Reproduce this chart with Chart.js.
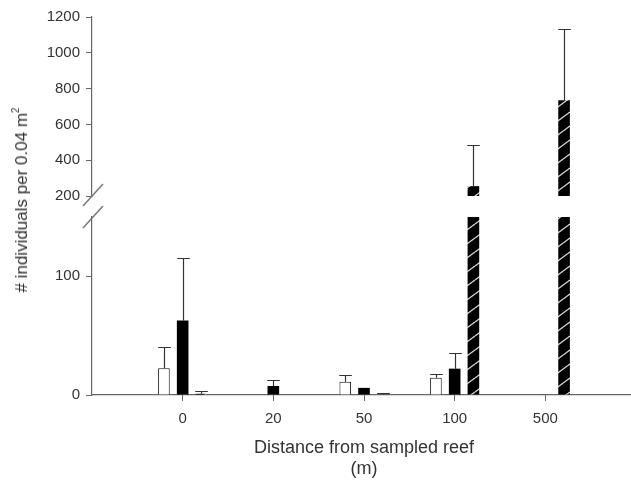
<!DOCTYPE html>
<html>
<head>
<meta charset="utf-8">
<script src="https://cdn.jsdelivr.net/npm/chart.js@4.4.1/dist/chart.umd.min.js"></script>
<style>
  html, body { margin: 0; padding: 0; background: #fff; }
  #wrap { position: relative; width: 631px; height: 480px; background: #fff; overflow: hidden; }
  #wrap canvas { position: absolute; left: 0; top: 0; }
  #ytitle {
    position: absolute; left: 22px; top: 200px; white-space: nowrap;
    font-family: "Liberation Sans", Arial, sans-serif; font-size: 17px; color: #333;
    transform: translate(-50%, -50%) rotate(-90deg);
  }
  #ytitle sup { font-size: 10px; vertical-align: 8px; line-height: 0; }
</style>
</head>
<body>
<div id="wrap">
  <canvas id="upper" width="636" height="480"></canvas>
  <canvas id="lower" width="636" height="480"></canvas>
  <div id="ytitle"># individuals per 0.04 m<sup>2</sup></div>
</div>
<script>
// ---- data ----
const categories = ['0', '20', '50', '100', '500'];
const whiteMeans = [22.5, 0, 11.2, 14.6, 0.5];
const whiteErrs  = [18.3, 0, 5.4, 3.5, 0];
const blackMeans = [62.8, 7.6, 6, 22.2, 0.5];
const blackErrs  = [52.7, 5, 0, 13, 0];
const hatchMeans = [1, 0, 0.5, 255, 735];
const hatchErrs  = [2, 0, 1, 230, 400];
const lowerTicks = [0, 100];
const upperTicks = [200, 400, 600, 800, 1000, 1200];
const xTitle = ['Distance from sampled reef', '(m)'];

// pad categories with empty slots at both ends
const labels = [''].concat(categories, ['']);
const pad = arr => [null].concat(arr, [null]);

const FONT = '"Liberation Sans", Arial, sans-serif';
const AXIS = '#666';
const TXT = '#333';

function makeHatch() {
  const c = document.createElement('canvas');
  const W = 19, H = 14;
  c.width = W; c.height = H;
  const g = c.getContext('2d');
  g.fillStyle = '#000';
  g.fillRect(0, 0, W, H);
  g.strokeStyle = 'rgba(255,255,255,0.85)';
  g.lineWidth = 1.3;
  for (const dy of [-H, 0, H]) {
    g.beginPath();
    g.moveTo(0, H + dy);
    g.lineTo(W, dy);
    g.stroke();
  }
  return g.createPattern(c, 'repeat');
}
const hatch = makeHatch();

function datasets() {
  return [
    { label: 'white', data: pad(whiteMeans), errors: pad(whiteErrs),
      backgroundColor: '#fff', borderColor: '#111', borderWidth: 1, clip: 0 },
    { label: 'black', data: pad(blackMeans), errors: pad(blackErrs),
      backgroundColor: '#000', borderColor: '#000', borderWidth: 0, clip: 0 },
    { label: 'hatched', data: pad(hatchMeans), errors: pad(hatchErrs),
      backgroundColor: hatch, borderColor: '#000', borderWidth: 0, clip: 0 }
  ];
}

const errorBars = {
  id: 'errorBars',
  afterDatasetsDraw(chart) {
    const ctx = chart.ctx, ys = chart.scales.y, area = chart.chartArea;
    ctx.save();
    ctx.beginPath();
    ctx.rect(area.left, area.top - 1, area.right - area.left, area.bottom - area.top + 1);
    ctx.clip();
    ctx.strokeStyle = '#333';
    ctx.lineWidth = 1.2;
    chart.data.datasets.forEach((ds, i) => {
      const meta = chart.getDatasetMeta(i);
      ds.data.forEach((v, j) => {
        const e = ds.errors[j];
        if (v === null || !e || e <= 0) return;
        if (v < ys.min || v > ys.max) return;
        const el = meta.data[j];
        const x = Math.round(el.x) + 0.5;
        const y0 = ys.getPixelForValue(v);
        const y1 = Math.round(ys.getPixelForValue(v + e)) + 0.5;
        const hw = (el.width + 1) / 2;
        ctx.beginPath();
        ctx.moveTo(x, y0);
        ctx.lineTo(x, y1);
        ctx.moveTo(x - hw, y1);
        ctx.lineTo(x + hw, y1);
        ctx.stroke();
      });
    });
    ctx.restore();
  }
};

function breakMarks(where) {
  return {
    id: 'breakMarks',
    afterDraw(chart) {
      const ctx = chart.ctx, a = chart.chartArea;
      const cx = a.left + 1;
      const cy = where === 'bottom' ? a.bottom - 1 : a.top;
      ctx.save();
      ctx.strokeStyle = '#777';
      ctx.lineWidth = 1.5;
      ctx.beginPath();
      ctx.moveTo(cx - 10, cy + 11);
      ctx.lineTo(cx + 10, cy - 11);
      ctx.stroke();
      ctx.restore();
    }
  };
}

function yScale(min, max, ticksArr) {
  return {
    type: 'linear', min, max, stacked: false,
    afterFit: s => { s.width = 92; },
    afterBuildTicks: s => { s.ticks = ticksArr.map(v => ({ value: v })); },
    grid: { drawOnChartArea: false, drawTicks: true, tickLength: 6, tickColor: AXIS, tickWidth: 1 },
    border: { display: true, color: AXIS, width: 1.2 },
    ticks: { color: TXT, font: { family: FONT, size: 15 }, padding: 6, callback: v => String(v) }
  };
}

const common = {
  responsive: false,
  animation: false,
  devicePixelRatio: 1,
  datasets: { bar: { categoryPercentage: 0.62, barPercentage: 0.62, grouped: true } },
  plugins: { legend: { display: false }, tooltip: { enabled: false }, title: { display: false } }
};

function fitX(h) {
  return s => { s.paddingLeft = 0; s.paddingRight = 0; if (h !== undefined) s.height = h; };
}

new Chart(document.getElementById('upper'), {
  type: 'bar',
  data: { labels, datasets: datasets() },
  options: Object.assign({}, common, {
    layout: { padding: { left: 0, right: 0, top: 17, bottom: 284 } },
    scales: {
      x: { type: 'category', offset: false, display: false, grid: { offset: false }, afterFit: fitX() },
      y: yScale(upperTicks[0], upperTicks[upperTicks.length - 1], upperTicks)
    }
  }),
  plugins: [errorBars, breakMarks('bottom')]
});

new Chart(document.getElementById('lower'), {
  type: 'bar',
  data: { labels, datasets: datasets() },
  options: Object.assign({}, common, {
    layout: { padding: { left: 0, right: 0, top: 217, bottom: 0 } },
    scales: {
      x: {
        type: 'category', offset: false,
        afterFit: fitX(85),
        grid: {
          offset: false, drawOnChartArea: false, drawTicks: true, tickLength: 6, tickWidth: 1,
          tickColor: c => (labels[c.index] === '' ? 'rgba(0,0,0,0)' : AXIS)
        },
        border: { display: true, color: AXIS, width: 1.2 },
        ticks: { color: TXT, font: { family: FONT, size: 15 }, padding: 9, maxRotation: 0, autoSkip: false },
        title: { display: true, text: xTitle, color: TXT, font: { family: FONT, size: 18, lineHeight: 1.17 }, padding: { top: 0, bottom: 0 } }
      },
      y: yScale(0, 150, lowerTicks)
    }
  }),
  plugins: [errorBars, breakMarks('top')]
});
</script>
</body>
</html>
